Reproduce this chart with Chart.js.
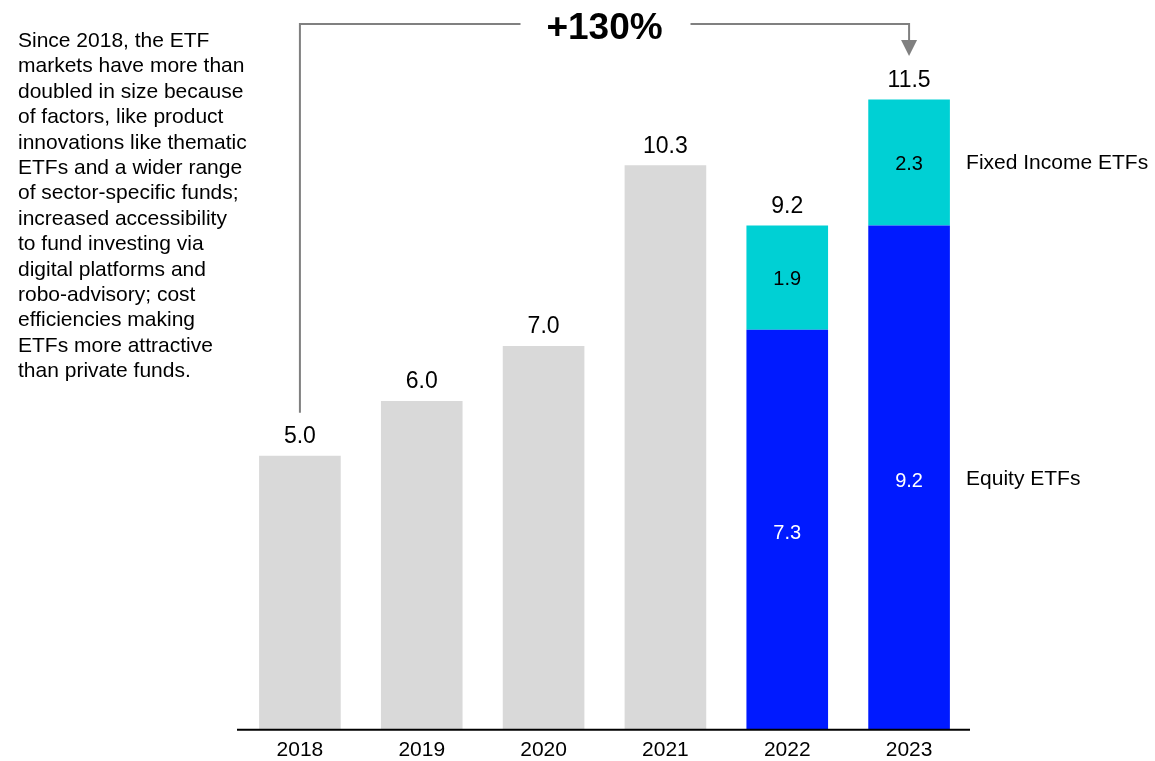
<!DOCTYPE html>
<html>
<head>
<meta charset="utf-8">
<script src="https://cdn.jsdelivr.net/npm/chart.js@4/dist/chart.umd.min.js"></script>
<style>
  html, body { margin: 0; padding: 0; background: #fff; }
  #wrap { position: relative; width: 1155px; height: 761px; }
  #note {
    position: absolute; left: 18px; top: 27px; white-space: nowrap;
    font-family: "Liberation Sans", Arial, sans-serif; font-size: 21px;
    line-height: 25.4px; color: #000;
  }
</style>
</head>
<body>
<div id="wrap">
  <canvas id="etfChart" width="1155" height="761"></canvas>
  <div id="note">Since 2018, the ETF<br>markets have more than<br>doubled in size because<br>of factors, like product<br>innovations like thematic<br>ETFs and a wider range<br>of sector-specific funds;<br>increased accessibility<br>to fund investing via<br>digital platforms and<br>robo-advisory; cost<br>efficiencies making<br>ETFs more attractive<br>than private funds.</div>
</div>
<script>
const years = ['2018', '2019', '2020', '2021', '2022', '2023'];
const totalMarket = [5.0, 6.0, 7.0, 10.3, null, null];
const equityEtfs = [null, null, null, null, 7.3, 9.2];
const fixedIncomeEtfs = [null, null, null, null, 1.9, 2.3];
const totals = [5.0, 6.0, 7.0, 10.3, 9.2, 11.5];
const growthLabel = '+130%';

const FONT = '"Liberation Sans", Arial, sans-serif';

const labelsPlugin = {
    id: 'etfLabels',
    afterDatasetsDraw(chart) {
        const ctx = chart.ctx;
        const y = chart.scales.y;
        const x = chart.scales.x;
        ctx.save();
        ctx.textAlign = 'center';
        ctx.textBaseline = 'middle';

        // totals above bars
        ctx.font = '23px ' + FONT;
        ctx.fillStyle = '#000';
        totals.forEach((t, i) => {
            ctx.fillText(t.toFixed(1), x.getPixelForValue(i), y.getPixelForValue(t) - 19);
        });

        // segment values
        ctx.font = '20px ' + FONT;
        equityEtfs.forEach((v, i) => {
            if (v == null) return;
            ctx.fillStyle = '#fff';
            ctx.fillText(v.toFixed(1), x.getPixelForValue(i), (y.getPixelForValue(0) + y.getPixelForValue(v)) / 2 + 4);
            const f = fixedIncomeEtfs[i];
            ctx.fillStyle = '#000';
            ctx.fillText(f.toFixed(1), x.getPixelForValue(i), (y.getPixelForValue(v) + y.getPixelForValue(v + f)) / 2 + 2);
        });

        // series names on the right of last bar
        const last = years.length - 1;
        const lx = x.getPixelForValue(last) + 57;
        ctx.textAlign = 'left';
        ctx.font = '21px ' + FONT;
        ctx.fillStyle = '#000';
        const e = equityEtfs[last], f = fixedIncomeEtfs[last];
        ctx.fillText('Equity ETFs', lx, (y.getPixelForValue(0) + y.getPixelForValue(e)) / 2 + 2);
        ctx.fillText('Fixed Income ETFs', lx, (y.getPixelForValue(e) + y.getPixelForValue(e + f)) / 2 + 1);

        // growth bracket
        const x0 = x.getPixelForValue(0);
        const x1 = x.getPixelForValue(last);
        const top = 24;
        const mid = (x0 + x1) / 2;
        ctx.strokeStyle = '#808080';
        ctx.lineWidth = 2;
        ctx.beginPath();
        ctx.moveTo(x0, y.getPixelForValue(totals[0]) - 43);
        ctx.lineTo(x0, top);
        ctx.lineTo(mid - 84, top);
        ctx.moveTo(mid + 86, top);
        ctx.lineTo(x1, top);
        ctx.lineTo(x1, 42);
        ctx.stroke();
        ctx.fillStyle = '#808080';
        ctx.beginPath();
        ctx.moveTo(x1 - 8, 40);
        ctx.lineTo(x1 + 8, 40);
        ctx.lineTo(x1, 56);
        ctx.closePath();
        ctx.fill();

        ctx.textAlign = 'center';
        ctx.fillStyle = '#000';
        ctx.font = 'bold 37px ' + FONT;
        ctx.fillText(growthLabel, mid, 29);

        // baseline
        ctx.strokeStyle = '#000';
        ctx.lineWidth = 2;
        ctx.beginPath();
        ctx.moveTo(chart.chartArea.left - 2, y.getPixelForValue(0));
        ctx.lineTo(chart.chartArea.right, y.getPixelForValue(0));
        ctx.stroke();
        ctx.restore();
    }
};

new Chart(document.getElementById('etfChart').getContext('2d'), {
    type: 'bar',
    data: {
        labels: years,
        datasets: [
            { label: 'Total', data: totalMarket, backgroundColor: '#d9d9d9' },
            { label: 'Equity ETFs', data: equityEtfs, backgroundColor: '#001aff' },
            { label: 'Fixed Income ETFs', data: fixedIncomeEtfs, backgroundColor: '#00d0d4' }
        ]
    },
    options: {
        responsive: false,
        animation: false,
        layout: { padding: { left: 239, right: 185, top: 72, bottom: -10 } },
        datasets: { bar: { categoryPercentage: 1, barPercentage: 0.67 } },
        scales: {
            x: {
                stacked: true,
                grid: { display: false, drawTicks: false },
                border: { display: false },
                ticks: { color: '#000', font: { family: FONT, size: 21 }, padding: 8 }
            },
            y: {
                stacked: true,
                display: false,
                min: 0,
                max: 12
            }
        },
        plugins: {
            legend: { display: false },
            tooltip: { enabled: false }
        }
    },
    plugins: [labelsPlugin]
});
</script>
</body>
</html>
